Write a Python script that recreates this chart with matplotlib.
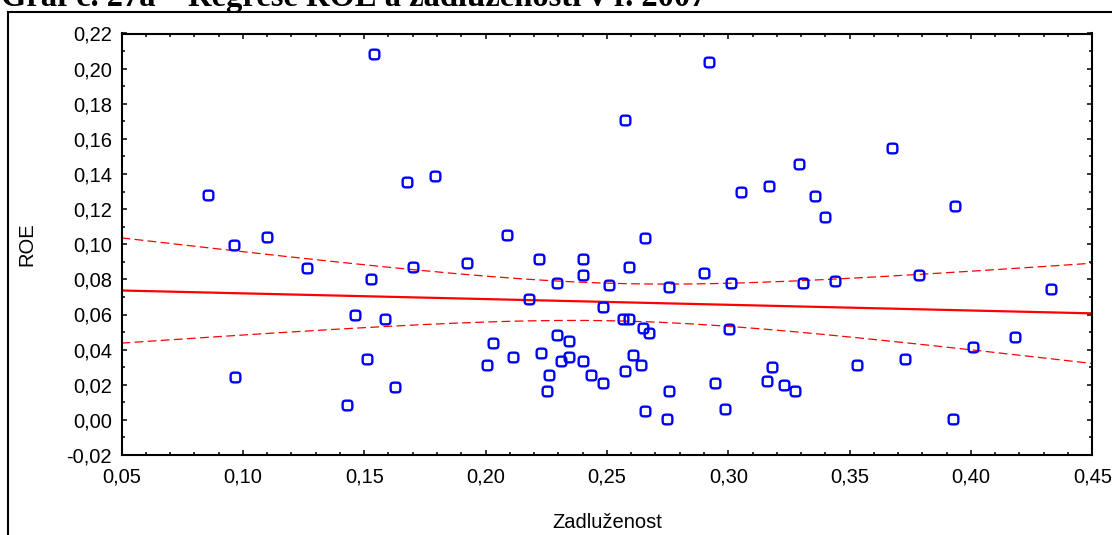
import numpy as np
import matplotlib
matplotlib.use('Agg')
from matplotlib import pyplot as plt
from matplotlib.path import Path
from matplotlib.patches import Rectangle
from matplotlib.ticker import MultipleLocator, FuncFormatter

# data (Zadluzenost vs ROE, 2007)
zadluzenost = [0.0855, 0.0964, 0.0968, 0.1100, 0.1263, 0.1428, 0.1461, 0.1513, 0.1527, 0.1542,
               0.1587, 0.1627, 0.1675, 0.1702, 0.1792, 0.1922, 0.2005, 0.2032, 0.2087, 0.2112,
               0.2178, 0.2219, 0.2230, 0.2252, 0.2260, 0.2296, 0.2296, 0.2310, 0.2345, 0.2345,
               0.2403, 0.2403, 0.2403, 0.2436, 0.2485, 0.2485, 0.2507, 0.2575, 0.2565, 0.2573,
               0.2590, 0.2590, 0.2609, 0.2639, 0.2650, 0.2656, 0.2656, 0.2675, 0.2757, 0.2757,
               0.2749, 0.2900, 0.2919, 0.2947, 0.2985, 0.3004, 0.3011, 0.3053, 0.3158, 0.3168,
               0.3182, 0.3231, 0.3275, 0.3292, 0.3309, 0.3357, 0.3400, 0.3441, 0.3529, 0.3673,
               0.3727, 0.3787, 0.3927, 0.3936, 0.4010, 0.4182, 0.4329]
roe = [0.1282, 0.0997, 0.0244, 0.1042, 0.0863, 0.0084, 0.0598, 0.0347, 0.0804, 0.2082,
       0.0575, 0.0187, 0.1353, 0.0873, 0.1387, 0.0895, 0.0313, 0.0438, 0.1055, 0.0358,
       0.0690, 0.0918, 0.0381, 0.0164, 0.0255, 0.0781, 0.0484, 0.0335, 0.0450, 0.0358,
       0.0918, 0.0827, 0.0335, 0.0255, 0.0644, 0.0210, 0.0770, 0.1707, 0.0575, 0.0278,
       0.0873, 0.0575, 0.0370, 0.0313, 0.0522, 0.1033, 0.0050, 0.0495, 0.0164, 0.0758,
       0.0004, 0.0838, 0.2038, 0.0210, 0.0061, 0.0518, 0.0781, 0.1295, 0.0221, 0.1330,
       0.0301, 0.0198, 0.0164, 0.1455, 0.0781, 0.1273, 0.1158, 0.0793, 0.0313, 0.1547,
       0.0347, 0.0827, 0.0004, 0.1215, 0.0415, 0.0473, 0.0747]

title = 'Graf č. 27a – Regrese ROE a zadluženosti v r. 2007'
t_crit = 1.992  # t(0.975, df=75)

x = np.array(zadluzenost)
y = np.array(roe)

# linear regression + 95% confidence band
b, a = np.polyfit(x, y, 1)
n = len(x)
resid = y - (a + b * x)
s = np.sqrt(np.sum(resid ** 2) / (n - 2))
xs = np.linspace(0.05, 0.45, 200)
fit = a + b * xs
se = s * np.sqrt(1.0 / n + (xs - x.mean()) ** 2 / np.sum((x - x.mean()) ** 2))

# rounded square marker (like the Statistica "o")
th = np.linspace(0, 2 * np.pi, 41)
mx = np.sign(np.cos(th)) * np.abs(np.cos(th)) ** 0.5
my = np.sign(np.sin(th)) * np.abs(np.sin(th)) ** 0.5
rsq = Path(np.column_stack([mx, my]), closed=True)

plt.rcParams['font.family'] = ['Liberation Sans', 'DejaVu Sans']

fig = plt.figure(figsize=(11.12, 5.35), dpi=100)
ax = fig.add_axes([121.5 / 1112, 1 - 455 / 535, (1092.3 - 121.5) / 1112, (455 - 33.5) / 535])

ax.plot(x, y, linestyle='none', marker=rsq, markersize=7.0, markeredgewidth=1.7,
        markeredgecolor='#0000ff', markerfacecolor='none', zorder=3)
ax.plot(xs, fit, color='red', lw=1.6, zorder=2)
ax.plot(xs, fit + t_crit * se, color='red', lw=0.9, dashes=(7, 3.5), zorder=2)
ax.plot(xs, fit - t_crit * se, color='red', lw=0.9, dashes=(7, 3.5), zorder=2)

ax.set_xlim(0.05, 0.45)
ax.set_ylim(-0.02, 0.22)
ax.xaxis.set_major_locator(MultipleLocator(0.05))
ax.xaxis.set_minor_locator(MultipleLocator(0.01))
ax.yaxis.set_major_locator(MultipleLocator(0.02))
ax.yaxis.set_minor_locator(MultipleLocator(0.01))
comma = FuncFormatter(lambda v, p: ('%.2f' % v).replace('.', ','))
ax.xaxis.set_major_formatter(comma)
ax.yaxis.set_major_formatter(comma)

ax.tick_params(which='both', direction='in', top=True, right=True, width=1.1, color='black')
ax.tick_params(which='major', length=3.8)
ax.tick_params(which='minor', length=2.2)
ax.tick_params(axis='x', which='major', labelsize=14.5, pad=9)
ax.tick_params(axis='y', which='major', labelsize=14.5, pad=7)
for sp in ax.spines.values():
    sp.set_linewidth(1.5)

ax.set_xlabel('Zadluženost', fontsize=14.5)
ax.set_ylabel('ROE', fontsize=14.5)
ax.xaxis.set_label_coords(0.5, -0.138)
ax.yaxis.set_label_coords(-0.088, 0.5)

# outer frame of the figure box (cut off at right and bottom)
fig.patches.append(Rectangle((8.3 / 1112, -0.1), 1.2, 1.1 - 12.3 / 535, transform=fig.transFigure,
                             fill=False, edgecolor='black', lw=1.5))

# caption above, only its lower part is visible
fig.text(1 / 1112, 1 - 6 / 535, title, family=['Liberation Serif', 'DejaVu Serif'],
         fontweight='bold', fontsize=23.5, va='baseline', ha='left')

plt.savefig('out.png', dpi=100)
